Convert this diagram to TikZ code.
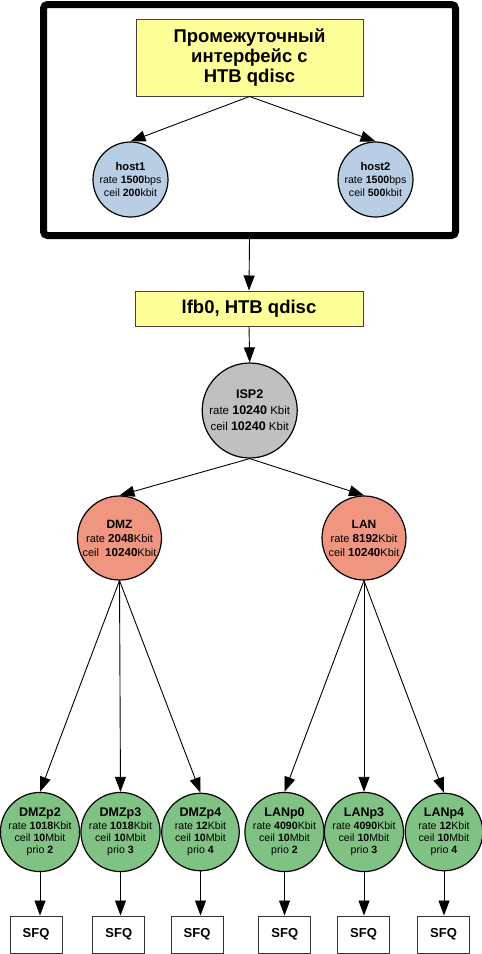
\documentclass[tikz,border=0pt]{standalone}
\usepackage{fontspec}
\setmainfont{Liberation Sans}
\usetikzlibrary{arrows.meta}
\definecolor{boxyellow}{HTML}{FFFF99}
\definecolor{hostblue}{HTML}{B9CDE5}
\definecolor{ispgray}{HTML}{C0C0C0}
\definecolor{salmon}{HTML}{F09580}
\definecolor{leafgreen}{HTML}{80C284}
\begin{document}
\begin{tikzpicture}[x=1pt,y=-1pt,
  conn/.style={-{Triangle[length=15pt,width=11pt]}, line width=0.9pt, black},
  yellowbox/.style={draw=black!75, line width=1pt, fill=boxyellow, inner sep=0pt, align=center, font=\bfseries\fontsize{18.5}{20}\selectfont},
  hostnode/.style={circle, draw=black, line width=1.2pt, fill=hostblue, minimum size=75pt, inner sep=0pt, align=center, font=\fontsize{10.6}{13}\selectfont},
  ispnode/.style={circle, draw=black, line width=1.2pt, fill=ispgray, minimum size=95pt, inner sep=0pt, align=center, font=\fontsize{11.5}{16}\selectfont},
  midnode/.style={circle, draw=black, line width=1.2pt, fill=salmon, minimum size=84pt, inner sep=0pt, align=center, font=\fontsize{11}{14}\selectfont},
  leafnode/.style={circle, draw=black, line width=1.2pt, fill=leafgreen, minimum size=77.5pt, inner sep=0pt, align=center, font=\fontsize{10.6}{12.4}\selectfont},
  sfqbox/.style={draw=black!80, line width=1pt, fill=white, minimum width=52pt, minimum height=37pt, inner sep=0pt, font=\bfseries\fontsize{13}{14}\selectfont},
]
\useasboundingbox (0,0) rectangle (482,954);
\fill[white] (0,0) rectangle (482,954);

% outer frame
\node[draw=black, line width=7pt, rounded corners=4pt, minimum width=412pt, minimum height=231pt, inner sep=0pt] (frame) at (249.5,120) {};

\node[yellowbox, minimum width=227pt, minimum height=77pt] (top) at (249.5,57.5) {Промежуточный\\интерфейс с\\HTB qdisc};

\node[hostnode] (host1) at (130.5,179.5) {{\bfseries\fontsize{11.2}{13}\selectfont host1}\\rate \textbf{1500}bps\\ceil \textbf{200}kbit};
\node[hostnode] (host2) at (375.5,179.5) {{\bfseries\fontsize{11.2}{13}\selectfont host2}\\rate \textbf{1500}bps\\ceil \textbf{500}kbit};

\node[yellowbox, minimum width=228pt, minimum height=35pt] (lfb) at (249,308.5) {lfb0, HTB qdisc};

\node[ispnode] (isp) at (249.7,410.5) {{\bfseries\fontsize{12.6}{16}\selectfont ISP2}\\rate {\bfseries\fontsize{12.5}{16}\selectfont 10240} Kbit\\ceil {\bfseries\fontsize{12.5}{16}\selectfont 10240} Kbit};

\node[midnode] (dmz) at (119.5,538) {{\bfseries\fontsize{12}{14}\selectfont DMZ}\\rate {\bfseries\fontsize{11.6}{14}\selectfont 2048}Kbit\\ceil\ \ {\bfseries\fontsize{11.6}{14}\selectfont 10240}Kbit};
\node[midnode] (lan) at (364,538) {{\bfseries\fontsize{12}{14}\selectfont LAN}\\rate {\bfseries\fontsize{11.6}{14}\selectfont 8192}Kbit\\ceil {\bfseries\fontsize{11.6}{14}\selectfont 10240}Kbit};

\node[leafnode] (dmzp2) at (40,832) {{\bfseries\fontsize{12.5}{12.4}\selectfont DMZp2}\\rate \textbf{1018}Kbit\\ceil \textbf{10}Mbit\\prio \textbf{2}};
\node[leafnode] (dmzp3) at (120.5,832) {{\bfseries\fontsize{12.5}{12.4}\selectfont DMZp3}\\rate \textbf{1018}Kbit\\ceil \textbf{10}Mbit\\prio \textbf{3}};
\node[leafnode] (dmzp4) at (200.5,832) {{\bfseries\fontsize{12.5}{12.4}\selectfont DMZp4}\\rate \textbf{12}Kbit\\ceil \textbf{10}Mbit\\prio \textbf{4}};
\node[leafnode] (lanp0) at (284.5,832) {{\bfseries\fontsize{12.5}{12.4}\selectfont LANp0}\\rate \textbf{4090}Kbit\\ceil \textbf{10}Mbit\\prio \textbf{2}};
\node[leafnode] (lanp3) at (364,832) {{\bfseries\fontsize{12.5}{12.4}\selectfont LANp3}\\rate \textbf{4090}Kbit\\ceil \textbf{10}Mbit\\prio \textbf{3}};
\node[leafnode] (lanp4) at (444,832) {{\bfseries\fontsize{12.5}{12.4}\selectfont LANp4}\\rate \textbf{12}Kbit\\ceil \textbf{10}Mbit\\prio \textbf{4}};

\node[sfqbox] (s1) at (36,934.5) {SFQ};
\node[sfqbox] (s2) at (118.8,934.5) {SFQ};
\node[sfqbox] (s3) at (197,934.5) {SFQ};
\node[sfqbox] (s4) at (284.8,934.5) {SFQ};
\node[sfqbox] (s5) at (363.5,934.5) {SFQ};
\node[sfqbox] (s6) at (443.5,934.5) {SFQ};

% connectors
\draw[conn] (top.south) -- (host1.north);
\draw[conn] (top.south) -- (host2.north);
\draw[conn] (frame.south) -- (lfb.north);
\draw[conn] (lfb.south) -- (isp.north);
\draw[conn] (isp.south) -- (dmz.north);
\draw[conn] (isp.south) -- (lan.north);
\foreach \c in {dmzp2,dmzp3,dmzp4} \draw[conn] (dmz.south) -- (\c.north);
\foreach \c in {lanp0,lanp3,lanp4} \draw[conn] (lan.south) -- (\c.north);
\foreach \c/\s in {dmzp2/s1,dmzp3/s2,dmzp4/s3,lanp0/s4,lanp3/s5,lanp4/s6}
  \draw[conn] (\c.south) -- (\c.south |- \s.north);
\end{tikzpicture}
\end{document}
